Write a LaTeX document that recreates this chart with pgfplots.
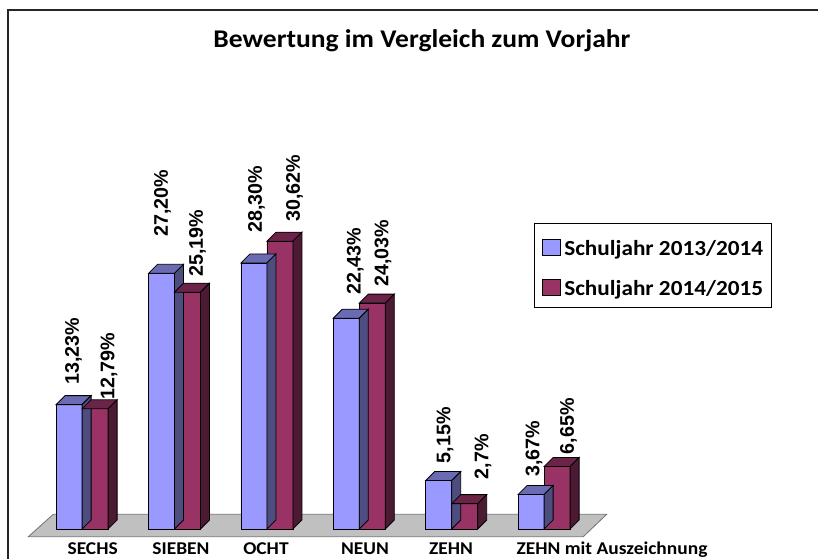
\documentclass[border=0pt]{standalone}
\usepackage{pgfplots}
\pgfplotsset{compat=1.18}
\usepackage{pgfplotstable}
\usepackage{fontspec}
\setmainfont{Carlito}
\newfontfamily\cfont[FakeStretch=1.08]{Carlito}
\newfontfamily\afont{Liberation Sans}

\definecolor{blueF}{RGB}{153,153,255}
\definecolor{blueT}{RGB}{107,107,179}
\definecolor{blueS}{RGB}{77,77,128}
\definecolor{redF}{RGB}{153,51,102}
\definecolor{redT}{RGB}{107,36,71}
\definecolor{redS}{RGB}{77,26,51}
\definecolor{floorC}{RGB}{192,192,192}

% x = category, y = value, lab = label text, dx/dy = label offsets (pt)
\pgfplotstableread{
x y lab dx dy
0 13.23 13,23 -8.7 19.6
1 27.20 27,20 -11.9 36.6
2 28.30 28,30 -10.3 30.3
3 22.43 22,43 -4.0 23.2
4 5.15 5,15 -6.7 17.3
5 3.67 3,67 -10.0 17.8
}\tabA
\pgfplotstableread{
x y lab dx dy
0 12.79 12,79 26.8 9
1 25.19 25,19 23.0 15.5
2 30.62 30,62 27.7 19.5
3 24.03 24,03 23.8 16.4
4 2.7 2,7 31.4 24.3
5 6.65 6,65 24.3 12
}\tabB

% 3D top and side faces of the bars (origin = front top centre of the pair)
\pgfdeclareplotmark{cubeA}{%
  \pgfsetlinewidth{0.8pt}\pgfsetstrokecolor{black}%
  \pgfsetfillcolor{blueT}%
  \pgfpathmoveto{\pgfpoint{-26pt}{0pt}}%
  \pgfpathlineto{\pgfpoint{0pt}{0pt}}%
  \pgfpathlineto{\pgfpoint{9pt}{9pt}}%
  \pgfpathlineto{\pgfpoint{-17pt}{9pt}}%
  \pgfpathclose\pgfusepath{fill,stroke}%
  \pgfsetfillcolor{blueS}%
  \pgfpathmoveto{\pgfpoint{0pt}{0pt}}%
  \pgfpathlineto{\pgfpoint{9pt}{9pt}}%
  \pgfpathlineto{\pgfpoint{9pt}{\hB pt}}%
  \pgfpathlineto{\pgfpoint{0pt}{-\hA pt}}%
  \pgfpathclose\pgfusepath{fill,stroke}%
}
\pgfdeclareplotmark{cubeB}{%
  \pgfsetlinewidth{0.8pt}\pgfsetstrokecolor{black}%
  \pgfsetfillcolor{redT}%
  \pgfpathmoveto{\pgfpoint{0pt}{0pt}}%
  \pgfpathlineto{\pgfpoint{26pt}{0pt}}%
  \pgfpathlineto{\pgfpoint{35pt}{9pt}}%
  \pgfpathlineto{\pgfpoint{9pt}{9pt}}%
  \pgfpathclose\pgfusepath{fill,stroke}%
  \pgfsetfillcolor{redS}%
  \pgfpathmoveto{\pgfpoint{26pt}{0pt}}%
  \pgfpathlineto{\pgfpoint{35pt}{9pt}}%
  \pgfpathlineto{\pgfpoint{35pt}{\hB pt}}%
  \pgfpathlineto{\pgfpoint{26pt}{-\hA pt}}%
  \pgfpathclose\pgfusepath{fill,stroke}%
}

\begin{document}
\begin{tikzpicture}
\useasboundingbox (0,0) rectangle (818pt,558pt);
\clip (0,0) rectangle (818pt,558pt);
\draw[line width=1.3pt, black!85] (8pt,-5pt) -- (8pt,548pt) -- (830pt,548pt);
\node[anchor=base, font=\cfont\bfseries\fontsize{25.5}{30}\selectfont] at (422pt,510.3pt) {Bewertung im Vergleich zum Vorjahr};
\begin{axis}[
  anchor=origin, at={(82.1pt,29pt)},
  x=92.4pt, y=9.4pt,
  xmin=-0.65, xmax=5.8, ymin=-2, ymax=33,
  clip=false,
  axis line style={draw=none},
  tick style={draw=none}, major tick length=0pt,
  ytick=\empty,
  xtick={0.114,1.070,1.990,3.062,3.993,5.735},
  xticklabels={SECHS,SIEBEN,OCHT,NEUN,ZEHN,ZEHN mit Auszeichnung},
  xticklabel style={font=\cfont\bfseries\fontsize{18}{20}\selectfont, anchor=base, yshift=-6.3pt, inner sep=0pt},
  legend style={at={(0.859,0.9863)}, anchor=north west, draw=black, line width=1pt,
    inner xsep=8pt, inner ysep=9pt, column sep=3pt, row sep=14pt,
    cells={anchor=base west},
    nodes={inner sep=0pt, text height=23pt, text depth=3pt},
    font=\cfont\bfseries\fontsize{21.5}{24}\selectfont},
]
% floor
\addplot[fill=floorC, draw=black!55, line width=0.8pt, forget plot]
  coordinates {(-0.3117,1.564) (5.6775,1.564) (5.4242,-0.819) (-0.5823,-0.819) (-0.3117,1.564)};
% series 2013/2014
\addplot[scatter, only marks, mark=cubeA, point meta=y, scatter/use mapped color={draw=black,fill=black},
  visualization depends on={9.4*\thisrow{y} \as \hA},
  visualization depends on={9-9.4*\thisrow{y} \as \hB}, forget plot]
  table[x=x,y=y]{\tabA};
\addplot[ybar, bar width=26pt, bar shift=-13pt, fill=blueF, draw=black, line width=0.8pt, forget plot]
  table[x=x,y=y]{\tabA};
% series 2014/2015
\addplot[scatter, only marks, mark=cubeB, point meta=y, scatter/use mapped color={draw=black,fill=black},
  visualization depends on={9.4*\thisrow{y} \as \hA},
  visualization depends on={9-9.4*\thisrow{y} \as \hB}, forget plot]
  table[x=x,y=y]{\tabB};
\addplot[ybar, bar width=26pt, bar shift=13pt, fill=redF, draw=black, line width=0.8pt, forget plot]
  table[x=x,y=y]{\tabB};
% value labels
\addplot[only marks, mark=none, point meta=explicit symbolic,
  visualization depends on={\thisrow{dx} \as \ldx},
  visualization depends on={\thisrow{dy} \as \ldy},
  nodes near coords={\pgfplotspointmeta\%},
  nodes near coords style={xshift=\ldx pt, yshift=\ldy pt, rotate=90, anchor=west, inner sep=0pt,
    font=\afont\bfseries\fontsize{19.7}{22}\selectfont}, forget plot]
  table[x=x,y=y,meta=lab]{\tabA};
\addplot[only marks, mark=none, point meta=explicit symbolic,
  visualization depends on={\thisrow{dx} \as \ldx},
  visualization depends on={\thisrow{dy} \as \ldy},
  nodes near coords={\pgfplotspointmeta\%},
  nodes near coords style={xshift=\ldx pt, yshift=\ldy pt, rotate=90, anchor=west, inner sep=0pt,
    font=\afont\bfseries\fontsize{19.7}{22}\selectfont}, forget plot]
  table[x=x,y=y,meta=lab]{\tabB};
\addlegendimage{legend image code/.code={\draw[fill=blueF,draw=black,line width=0.8pt] (0pt,0.5pt) rectangle (18pt,16pt);}}
\addlegendentry{Schuljahr 2013/2014}
\addlegendimage{legend image code/.code={\draw[fill=redF,draw=black,line width=0.8pt] (0pt,0.5pt) rectangle (18pt,16pt);}}
\addlegendentry{Schuljahr 2014/2015}
\end{axis}
\end{tikzpicture}
\end{document}
